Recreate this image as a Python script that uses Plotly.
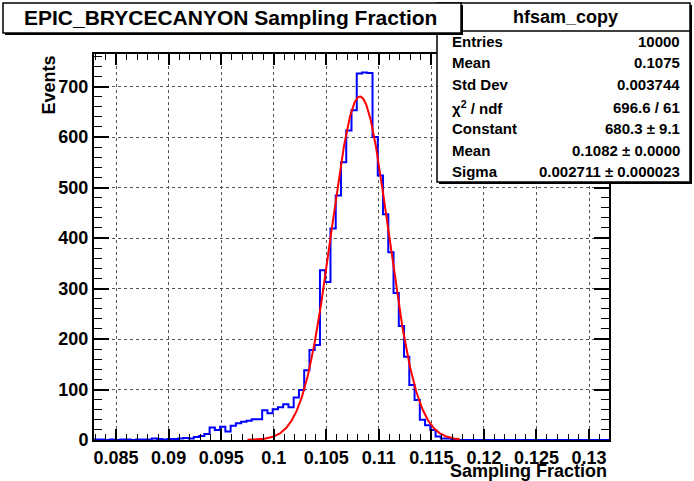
import numpy as np
import plotly.graph_objects as go

# ---------------- data ----------------
bin_low = 0.0829
bin_width = 0.0005
counts = [1, 1, 0, 1, 0, 1, 1, 0, 1, 1,
          1, 3, 2, 1, 2, 2, 3, 4, 3, 6,
          8, 12, 25, 20, 26, 17, 28, 33, 36, 38,
          41, 41, 59, 53, 61, 65, 71, 65, 84, 99,
          138, 178, 188, 336, 313, 419, 484, 550, 613, 653,
          726, 728, 727, 600, 524, 447, 372, 291, 226, 165,
          109, 79, 40, 29, 20, 7, 3, 3, 1, 0,
          0, 0, 0, 0, 0, 0, 0, 0, 0, 0,
          0, 0, 0, 0, 0, 0, 0, 0, 0, 0,
          0, 0, 0, 0, 0, 0, 0, 0]
fit_constant = 680.3
fit_mean = 0.1082
fit_sigma = 0.002711
fit_range = [0.0975, 0.1177]

x_tickvals = [0.085, 0.09, 0.095, 0.1, 0.105, 0.11, 0.115, 0.12, 0.125, 0.13]
x_ticktext = ["0.085", "0.09", "0.095", "0.1", "0.105", "0.11", "0.115", "0.12", "0.125", "0.13"]
y_tickvals = [0, 100, 200, 300, 400, 500, 600, 700]
y_ticktext = ["0", "100", "200", "300", "400", "500", "600", "700"]

title_text = "EPIC_BRYCECANYON Sampling Fraction"
stats_name = "hfsam_copy"
stats_labels = ["Entries", "Mean", "Std Dev", "χ<sup>2</sup> / ndf", "Constant", "Mean", "Sigma"]
stats_values = ["10000", "0.1075", "0.003744", "696.6 / 61", "680.3 ± 9.1", "0.1082 ± 0.0000", "0.002711 ± 0.000023"]

# ---------------- build ----------------
n = len(counts)
edges = bin_low + bin_width * np.arange(n + 1)
x_range = [edges[0], edges[-1]]
y_max = 1.05 * max(counts)

hx = edges
hy = list(counts) + [counts[-1]]

fx = np.linspace(fit_range[0], fit_range[1], 400)
fy = fit_constant * np.exp(-0.5 * ((fx - fit_mean) / fit_sigma) ** 2)

FONT = "Liberation Sans, Arial, sans-serif"

fig = go.Figure()
fig.add_trace(go.Scatter(x=hx, y=hy, mode="lines", line=dict(color="#0000ff", width=2, shape="hv"),
                         hoverinfo="skip", showlegend=False))
fig.add_trace(go.Scatter(x=fx, y=fy, mode="lines", line=dict(color="#ff0000", width=2),
                         hoverinfo="skip", showlegend=False))

W, H = 694, 481
L, R, T, B = 94, 609, 54, 440

fig.update_layout(
    width=W, height=H, autosize=False,
    margin=dict(l=L, r=W - R, t=T, b=H - B, pad=0),
    paper_bgcolor="white", plot_bgcolor="white",
    font=dict(family=FONT, color="black"),
    showlegend=False,
)
fig.update_xaxes(
    range=x_range, showline=True, linecolor="black", linewidth=2, mirror="allticks",
    ticks="inside", ticklen=11, tickwidth=1.5, tickcolor="black",
    tickvals=x_tickvals, ticktext=["<b>" + t + "</b>" for t in x_ticktext],
    tickfont=dict(family=FONT, size=18, color="black"),
    showgrid=True, gridcolor="#555", griddash="dot", gridwidth=1,
    minor=dict(ticks="inside", ticklen=6, dtick=0.001, tick0=0.085, tickcolor="black", tickwidth=1.2, showgrid=False),
    zeroline=False, fixedrange=True,
)
fig.update_yaxes(
    range=[0, y_max], showline=True, linecolor="black", linewidth=2, mirror="allticks",
    ticks="inside", ticklen=15, tickwidth=1.5, tickcolor="black",
    tickvals=y_tickvals, ticktext=["<b>" + t + "</b>" for t in y_ticktext],
    tickfont=dict(family=FONT, size=18, color="black"),
    showgrid=True, gridcolor="#555", griddash="dot", gridwidth=1,
    minor=dict(ticks="inside", ticklen=8, dtick=20, tick0=0, tickcolor="black", tickwidth=1.2, showgrid=False),
    zeroline=False, fixedrange=True,
)

# paper coords are relative to the plot area
def px_x(p):
    return (p - L) / (R - L)

def px_y(p):
    return (B - p) / (B - T)

shapes = []
# stats box (with shadow)
shapes.append(dict(type="rect", xref="paper", yref="paper", x0=px_x(439), x1=px_x(692), y0=px_y(184), y1=px_y(5),
                   line=dict(color="black", width=0), fillcolor="black", layer="above"))
shapes.append(dict(type="rect", xref="paper", yref="paper", x0=px_x(437), x1=px_x(690), y0=px_y(182), y1=px_y(3),
                   line=dict(color="black", width=1.5), fillcolor="white", layer="above"))
shapes.append(dict(type="line", xref="paper", yref="paper", x0=px_x(437), x1=px_x(690), y0=px_y(31), y1=px_y(31),
                   line=dict(color="black", width=1.5), layer="above"))
# title box with shadow
shapes.append(dict(type="rect", xref="paper", yref="paper", x0=px_x(5), x1=px_x(463), y0=px_y(35), y1=px_y(5),
                   line=dict(color="black", width=0), fillcolor="black", layer="above"))
shapes.append(dict(type="rect", xref="paper", yref="paper", x0=px_x(3), x1=px_x(461), y0=px_y(33), y1=px_y(3),
                   line=dict(color="black", width=1.5), fillcolor="white", layer="above"))
fig.update_layout(shapes=shapes)

ann = []
ann.append(dict(text="<b>" + title_text + "</b>", x=px_x(230), y=px_y(18), xref="paper", yref="paper",
                xanchor="center", yanchor="middle", showarrow=False, font=dict(family=FONT, size=21)))
ann.append(dict(text="<b>" + stats_name + "</b>", x=px_x(565), y=px_y(17), xref="paper", yref="paper",
                xanchor="center", yanchor="middle", showarrow=False, font=dict(family=FONT, size=18)))
row_y = [41, 63, 85, 107, 128, 150, 171]
for lab, val, yy in zip(stats_labels, stats_values, row_y):
    ann.append(dict(text="<b>" + lab + "</b>", x=px_x(450), y=px_y(yy), xref="paper", yref="paper",
                    xanchor="left", yanchor="middle", showarrow=False, font=dict(family=FONT, size=15)))
    ann.append(dict(text="<b>" + val + "</b>", x=px_x(682), y=px_y(yy), xref="paper", yref="paper",
                    xanchor="right", yanchor="middle", showarrow=False, font=dict(family=FONT, size=15)))
ann.append(dict(text="<b>Events</b>", x=px_x(48), y=px_y(54), xref="paper", yref="paper",
                xanchor="center", yanchor="top", textangle=-90, showarrow=False, font=dict(family=FONT, size=18)))
ann.append(dict(text="<b>Sampling Fraction</b>", x=px_x(609), y=px_y(471), xref="paper", yref="paper",
                xanchor="right", yanchor="middle", showarrow=False, font=dict(family=FONT, size=18)))
fig.update_layout(annotations=ann)

fig.write_html("out.html", config={"displayModeBar": False},
               post_script="document.body.style.margin='0';document.body.style.overflow='hidden';")
